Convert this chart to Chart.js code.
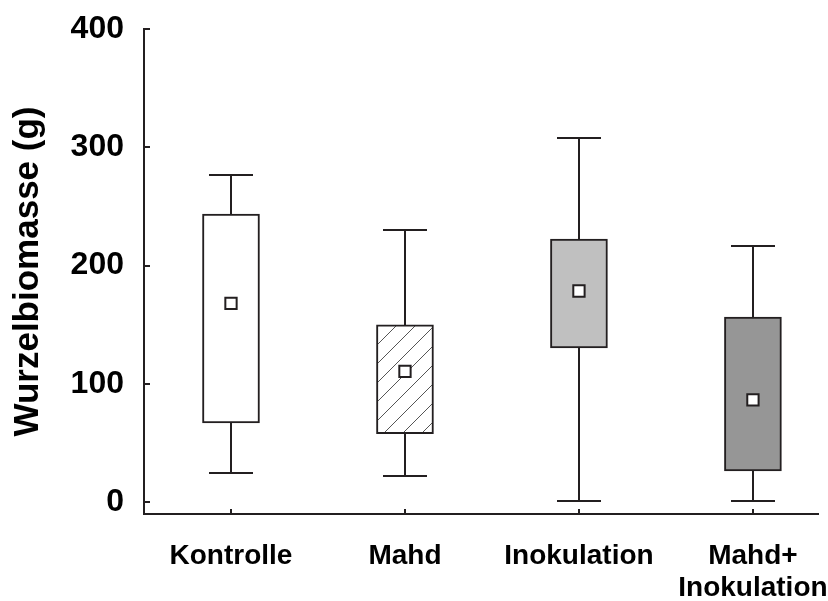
<!DOCTYPE html>
<html>
<head>
<meta charset="utf-8">
<script src="https://cdn.jsdelivr.net/npm/chart.js@4.4.1/dist/chart.umd.min.js"></script>
<style>
  html, body { margin: 0; padding: 0; background: #fff; }
  #wrap { width: 828px; height: 601px; }
</style>
</head>
<body>
<div id="wrap"><canvas id="boxChart" width="828" height="601"></canvas></div>
<script>
// values (g)
const categories = ['Kontrolle', 'Mahd', 'Inokulation', ['Mahd+', 'Inokulation']];
const whiskerLow = [25, 22, 1, 1];
const boxLow = [67, 58, 130.5, 26.5];
const boxHigh = [243.5, 150, 222.5, 156.5];
const whiskerHigh = [276.5, 230.5, 307.5, 216.5];
const means = [168, 110.5, 178.5, 86.5];
const yTicks = [0, 100, 200, 300, 400];

const ink = '#231f20';
const font = 'Liberation Sans, Arial, Helvetica, sans-serif';

// diagonal hatching for "Mahd"
function hatch() {
  const s = 19;
  const c = document.createElement('canvas');
  c.width = s; c.height = s;
  const g = c.getContext('2d');
  g.fillStyle = '#fff';
  g.fillRect(0, 0, s, s);
  g.strokeStyle = '#555';
  g.lineWidth = 1;
  g.beginPath();
  g.moveTo(-1, s + 1); g.lineTo(s + 1, -1);
  g.moveTo(-1, 1); g.lineTo(1, -1);
  g.moveTo(s - 1, s + 1); g.lineTo(s + 1, s - 1);
  g.stroke();
  return g.createPattern(c, 'repeat');
}

const boxFill = ['#ffffff', hatch(), '#c0c0c0', '#969696'];

const boxExtras = {
  id: 'boxExtras',
  beforeDatasetsDraw(chart) {
    const { ctx, scales: { x, y } } = chart;
    ctx.save();
    ctx.strokeStyle = ink;
    ctx.lineWidth = 2;
    categories.forEach((c, i) => {
      const px = Math.round(x.getPixelForValue(i + 1));
      const lo = Math.round(y.getPixelForValue(whiskerLow[i]));
      const hi = Math.round(y.getPixelForValue(whiskerHigh[i]));
      ctx.beginPath();
      ctx.moveTo(px, lo); ctx.lineTo(px, hi);
      ctx.moveTo(px - 22, lo); ctx.lineTo(px + 22, lo);
      ctx.moveTo(px - 22, hi); ctx.lineTo(px + 22, hi);
      ctx.stroke();
    });
    ctx.restore();
  },
  afterDraw(chart) {
    // short inward tick marks
    const { ctx, chartArea, scales: { x, y } } = chart;
    ctx.save();
    ctx.strokeStyle = ink;
    ctx.lineWidth = 2;
    ctx.beginPath();
    yTicks.forEach(v => {
      const py = Math.round(y.getPixelForValue(v));
      ctx.moveTo(chartArea.left, py);
      ctx.lineTo(chartArea.left + 6, py);
    });
    categories.forEach((c, i) => {
      const px = Math.round(x.getPixelForValue(i + 1));
      ctx.moveTo(px, chartArea.bottom);
      ctx.lineTo(px, chartArea.bottom - 5);
    });
    ctx.stroke();
    ctx.restore();
  }
};

new Chart(document.getElementById('boxChart'), {
  type: 'bar',
  data: {
    datasets: [
      {
        type: 'scatter',
        data: means.map((m, i) => ({ x: i + 1, y: m })),
        pointStyle: 'rect',
        pointRadius: 8,
        backgroundColor: '#ffffff',
        borderColor: ink,
        borderWidth: 2,
        order: 0
      },
      {
        data: categories.map((c, i) => ({ x: i + 1, y: [boxLow[i], boxHigh[i]] })),
        backgroundColor: boxFill,
        borderColor: ink,
        borderWidth: 2,
        borderSkipped: false,
        barThickness: 57,
        order: 1
      }
    ]
  },
  options: {
    responsive: false,
    animation: false,
    devicePixelRatio: 1,
    layout: { padding: { top: 29, right: 1, left: 0, bottom: 0 } },
    plugins: {
      legend: { display: false },
      tooltip: { enabled: false }
    },
    scales: {
      x: {
        type: 'linear',
        offset: false,
        min: 0.5,
        max: 4.374,
        afterBuildTicks: s => { s.ticks = categories.map((c, i) => ({ value: i + 1 })); },
        afterFit: s => { s.height = 87; s.paddingLeft = 0; s.paddingRight = 0; },
        grid: { display: false, drawTicks: false, offset: false },
        border: { display: true, color: ink, width: 2 },
        ticks: {
          autoSkip: false,
          maxRotation: 0,
          padding: 26,
          color: '#000',
          font: { family: font, size: 28, weight: 'bold', lineHeight: 1.15 },
          callback: v => categories[Math.round(v) - 1]
        }
      },
      y: {
        min: -10,
        max: 400,
        afterBuildTicks: s => { s.ticks = yTicks.map(v => ({ value: v })); },
        afterFit: s => { s.width = 144; s.paddingTop = 0; s.paddingBottom = 0; },
        grid: { display: false, drawTicks: false },
        border: { display: true, color: ink, width: 2 },
        ticks: {
          padding: 20,
          color: '#000',
          font: { family: font, size: 32, weight: 'bold' }
        },
        title: {
          display: true,
          text: 'Wurzelbiomasse (g)',
          color: '#000',
          padding: { top: 7, bottom: 0 },
          font: { family: font, size: 35, weight: 'bold' }
        }
      }
    }
  },
  plugins: [boxExtras]
});
</script>
</body>
</html>
